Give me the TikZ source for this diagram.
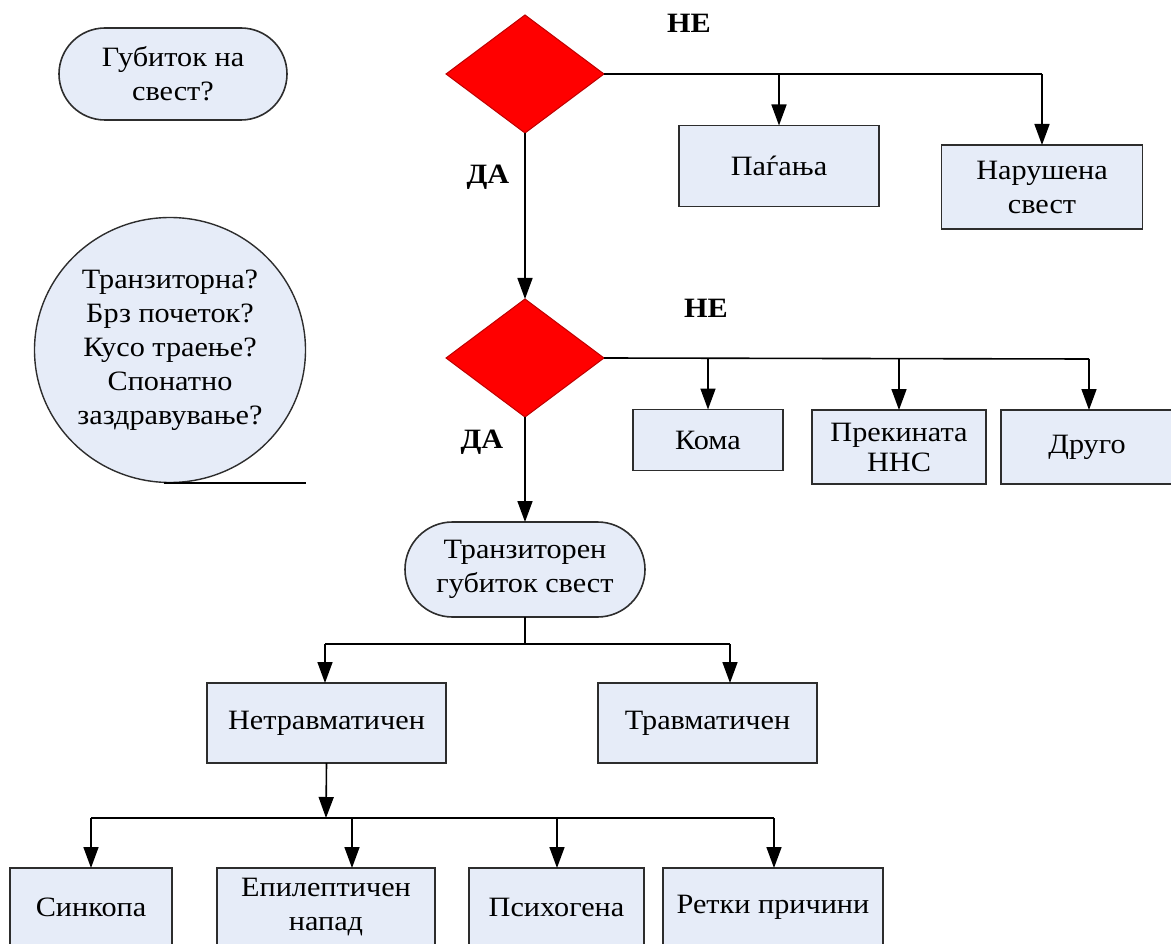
\documentclass[tikz,border=0pt]{standalone}
\usepackage{fontspec}
\setmainfont{Liberation Serif}[FakeStretch=1.08]
\usetikzlibrary{shapes.geometric,shapes.misc,arrows.meta}
\definecolor{boxfill}{RGB}{230,236,248}
\definecolor{boxline}{RGB}{45,45,45}
\definecolor{diared}{RGB}{255,0,0}
\definecolor{diaedge}{RGB}{190,0,0}
\begin{document}
\begin{tikzpicture}[x=1pt,y=-1pt,
  font=\rmfamily\fontsize{28}{34}\selectfont,
  box/.style={draw=boxline,line width=1.8pt,fill=boxfill,align=center,inner sep=0pt,outer sep=0pt},
  stad/.style={rounded rectangle,draw=boxline,line width=1.6pt,fill=boxfill,align=center,inner sep=0pt,outer sep=0pt},
  ell/.style={ellipse,draw=boxline,line width=1.4pt,fill=boxfill,align=center,inner sep=0pt,outer sep=0pt},
  dia/.style={diamond,draw=diaedge,line width=1pt,fill=diared,inner sep=0pt,outer sep=0pt,minimum width=158pt,minimum height=118pt},
  lbl/.style={font=\rmfamily\fontsize{28}{34}\selectfont\bfseries,inner sep=0pt},
  wire/.style={draw=black,line width=1.6pt},
  arr/.style={wire,-{Triangle[length=21pt,width=15pt]}}
]
\useasboundingbox (0,0) rectangle (1171,944);
\clip (0,0) rectangle (1171,944);

% left side questions
\node[stad,minimum width=228pt,minimum height=92pt] (q1) at (173,74) {Губиток на\\свест?};
\node[ell,minimum width=271pt,minimum height=265pt] (q2) at (170,350) {Транзиторна?\\Брз почеток?\\Кусо траење?\\Спонатно\\заздравување?};
\coordinate (t1) at (164,483);
\coordinate (t2) at (306,483);
\draw[wire] (t1) -- (t2);

% decisions
\node[dia] (d1) at (525,74) {};
\node[dia] (d2) at (525,358) {};
\node[lbl] (ne1) at (689,23) {НЕ};
\node[lbl] (da1) at (488,177) {ДА};
\node[lbl] (ne2) at (706,308) {НЕ};
\node[lbl] (da2) at (482,442) {ДА};

% first NO branch
\node[box,minimum width=200pt,minimum height=81pt] (pag) at (779,166) {Паѓања};
\node[box,minimum width=201pt,minimum height=84pt] (nar) at (1042,187) {Нарушена\\свест};
\coordinate (e1) at (1042,74);
\coordinate (p1) at (779,74);
\draw[wire] (d1.east) -- (e1);
\draw[arr] (p1) -- (pag.north);
\draw[arr] (e1) -- (nar.north);

% second NO branch
\node[box,minimum width=150pt,minimum height=61pt] (koma) at (708,440) {Кома};
\node[box,minimum width=174pt,minimum height=74pt,font=\rmfamily\fontsize{28}{30}\selectfont] (prek) at (899,447) {Прекината\\ННС};
\node[box,minimum width=172pt,minimum height=74pt] (drugo) at (1087,447) {Друго};
\coordinate (e2) at (1089,359);
\coordinate (k1) at (708,359);
\coordinate (k2) at (899,359);
\draw[wire] (d2.east) -- (e2);
\draw[arr] (k1) -- (koma.north);
\draw[arr] (k2) -- (prek.north);
\draw[arr] (e2) -- (e2 |- drugo.north);

% YES chain
\draw[arr] (d1.south) -- (d2.north);
\node[stad,minimum width=240pt,minimum height=95pt] (s2) at (525,569.5) {Транзиторен\\губиток свест};
\draw[arr] (d2.south) -- (s2.north);

% transient split
\node[box,minimum width=239pt,minimum height=80pt] (net) at (326.5,723) {Нетравматичен};
\node[box,minimum width=219pt,minimum height=80pt] (trav) at (707.5,723) {Травматичен};
\coordinate (m0) at (525,644);
\coordinate (m1) at (325,644);
\coordinate (m2) at (730,644);
\draw[wire] (s2.south) -- (m0);
\draw[wire] (m1) -- (m2);
\draw[arr] (m1) -- (m1 |- net.north);
\draw[arr] (m2) -- (m2 |- trav.north);

% non-traumatic split
\node[box,minimum width=162pt,minimum height=78pt] (sink) at (91,907) {Синкопа};
\node[box,minimum width=218pt,minimum height=78pt] (epi) at (326,907) {Епилептичен\\напад};
\node[box,minimum width=175pt,minimum height=78pt] (psi) at (556.5,907) {Психогена};
\node[box,minimum width=220pt,minimum height=78pt] (ret) at (773,907) {Ретки причини};
\coordinate (n0) at (326,818);
\coordinate (b1) at (91,818);
\coordinate (b2) at (352,818);
\coordinate (b3) at (557,818);
\coordinate (b4) at (774,818);
\draw[wire] (b1) -- (b4);
\draw[arr] (net.south) -- (n0);
\draw[arr] (b1) -- (b1 |- sink.north);
\draw[arr] (b2) -- (b2 |- epi.north);
\draw[arr] (b3) -- (b3 |- psi.north);
\draw[arr] (b4) -- (b4 |- ret.north);
\end{tikzpicture}
\end{document}
